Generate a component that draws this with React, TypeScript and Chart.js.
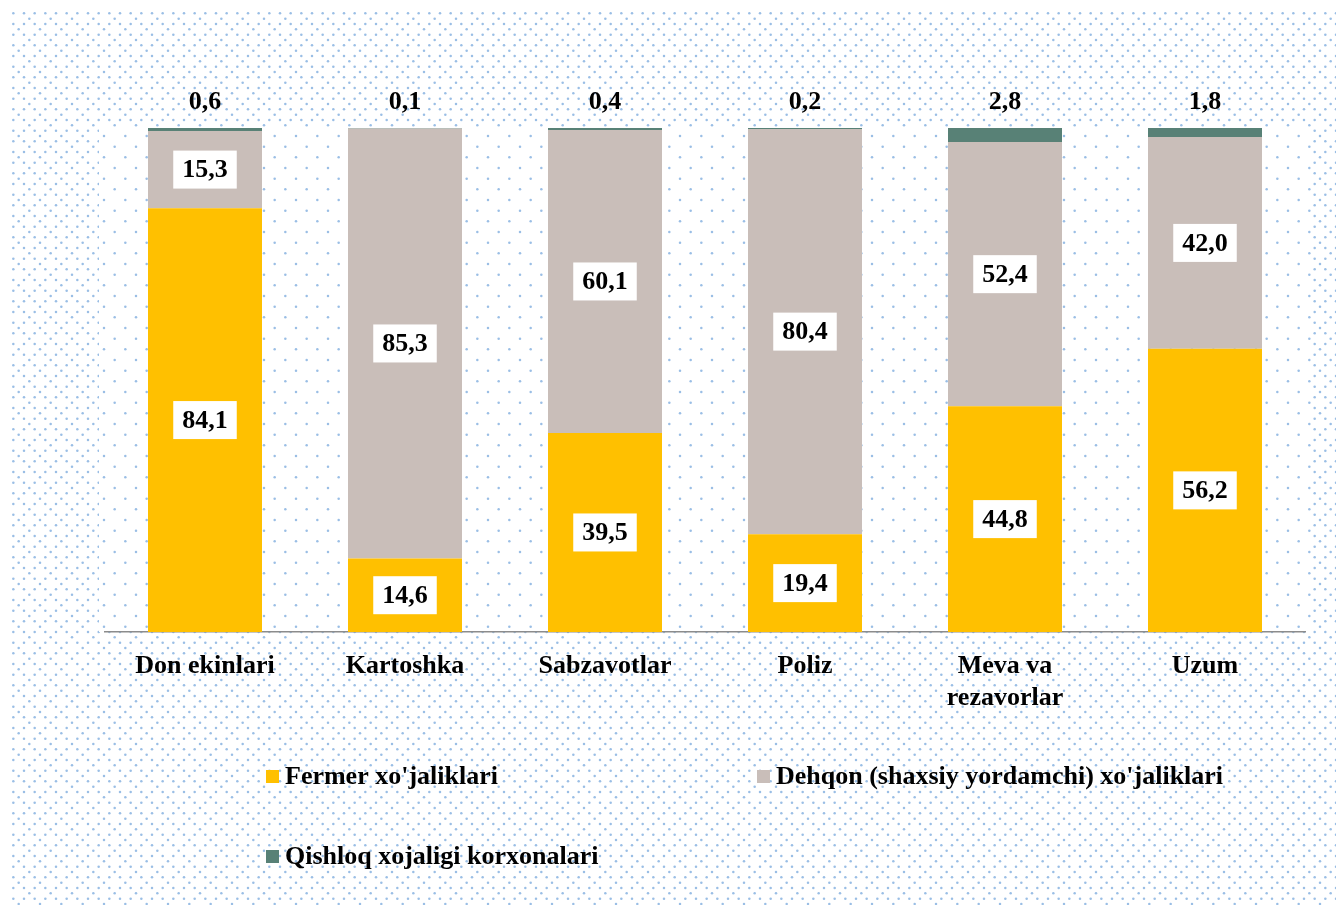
import React, { useEffect, useRef } from 'react';
import { Chart, registerables } from 'chart.js';

Chart.register(...registerables);

const categories: (string | string[])[] = ['Don ekinlari', 'Kartoshka', 'Sabzavotlar', 'Poliz', ['Meva va', 'rezavorlar'], 'Uzum'];
const fermer = [84.1, 14.6, 39.5, 19.4, 44.8, 56.2];
const dehqon = [15.3, 85.3, 60.1, 80.4, 52.4, 42.0];
const qishloq = [0.6, 0.1, 0.4, 0.2, 2.8, 1.8];
const seriesNames = ["Fermer xo'jaliklari", "Dehqon (shaxsiy yordamchi) xo'jaliklari", 'Qishloq xojaligi korxonalari'];
const seriesColors = ['#FFC000', '#C9BEB9', '#588176'];

const FONT = "'Liberation Serif', 'Times New Roman', serif";
const W = 1336;
const H = 905;

const fmt = (v: number) => v.toFixed(1).replace('.', ',');

function makePattern(ctx: CanvasRenderingContext2D, dense: boolean) {
  const tile = document.createElement('canvas');
  tile.width = 64;
  tile.height = 64;
  const t = tile.getContext('2d')!;
  const u = 16 / 3;
  t.fillStyle = 'rgba(120,168,220,0.75)';
  for (let k = 0; k < 12; k++) {
    const y = k * u + u / 2;
    const xs: number[] = [];
    const m = k % 4;
    if (m === 0 || m === 2) {
      if (dense) for (let j = 0; j < 6; j++) xs.push(j * 2 * u + u / 2);
    } else if (m === 1) {
      for (let j = 0; j < 3; j++) xs.push(j * 4 * u + 3 * u + u / 2);
    } else {
      for (let j = 0; j < 3; j++) xs.push(j * 4 * u + u + u / 2);
    }
    xs.forEach((x) => {
      t.beginPath();
      t.arc(x % 64, y, 1.25, 0, Math.PI * 2);
      t.fill();
    });
  }
  return ctx.createPattern(tile, 'repeat')!;
}

const backgroundPlugin = {
  id: 'dotBackground',
  beforeDraw(chart: any) {
    const ctx: CanvasRenderingContext2D = chart.ctx;
    const ca = chart.chartArea;
    ctx.save();
    ctx.fillStyle = '#ffffff';
    ctx.fillRect(0, 0, chart.width, chart.height);
    ctx.fillStyle = makePattern(ctx, true);
    ctx.fillRect(10, 12, chart.width - 10, chart.height - 12);
    const px = ca.left - 6;
    const py = ca.top - 1;
    const pw = ca.right - ca.left + 8;
    const ph = ca.bottom - ca.top + 1;
    ctx.fillStyle = '#ffffff';
    ctx.fillRect(px, py, pw, ph);
    ctx.fillStyle = makePattern(ctx, false);
    ctx.fillRect(px, py, pw, ph);
    ctx.restore();
  },
};

const labelPlugin = {
  id: 'valueLabels',
  afterDatasetsDraw(chart: any) {
    const ctx: CanvasRenderingContext2D = chart.ctx;
    ctx.save();
    ctx.font = `bold 26px ${FONT}`;
    ctx.textAlign = 'center';
    ctx.textBaseline = 'middle';
    chart.data.datasets.forEach((ds: any, di: number) => {
      const meta = chart.getDatasetMeta(di);
      meta.data.forEach((el: any, i: number) => {
        const txt = fmt(ds.data[i]);
        if (di < 2) {
          const cy = (el.y + el.base) / 2;
          const w = ctx.measureText(txt).width + 18;
          const h = 38;
          ctx.fillStyle = '#ffffff';
          ctx.fillRect(el.x - w / 2, cy - h / 2, w, h);
          ctx.fillStyle = '#000000';
          ctx.fillText(txt, el.x, cy + 1);
        } else {
          ctx.fillStyle = '#000000';
          ctx.fillText(txt, el.x, el.y - 26);
        }
      });
    });
    ctx.restore();
  },
};

const legendPlugin = {
  id: 'customLegend',
  afterDraw(chart: any) {
    const ctx: CanvasRenderingContext2D = chart.ctx;
    const pos = [
      [266, 777],
      [757, 777],
      [266, 857],
    ];
    ctx.save();
    ctx.font = `bold 26px ${FONT}`;
    ctx.textAlign = 'left';
    ctx.textBaseline = 'middle';
    chart.data.datasets.forEach((ds: any, i: number) => {
      const [x, y] = pos[i];
      ctx.fillStyle = ds.backgroundColor;
      ctx.fillRect(x, y - 7, 13, 13);
      ctx.fillStyle = '#000000';
      ctx.fillText(ds.label, x + 19, y);
    });
    ctx.restore();
  },
};

export default function App() {
  const ref = useRef<HTMLCanvasElement>(null);
  useEffect(() => {
    if (!ref.current) return;
    const chart = new Chart(ref.current, {
      type: 'bar',
      data: {
        labels: categories,
        datasets: [
          { label: seriesNames[0], data: fermer, backgroundColor: seriesColors[0] },
          { label: seriesNames[1], data: dehqon, backgroundColor: seriesColors[1] },
          { label: seriesNames[2], data: qishloq, backgroundColor: seriesColors[2] },
        ],
      },
      options: {
        responsive: false,
        animation: false,
        devicePixelRatio: 1,
        layout: { padding: { left: 105, right: 31, top: 128, bottom: H - 632 - 110 } },
        datasets: { bar: { barPercentage: 0.57, categoryPercentage: 1 } },
        plugins: { legend: { display: false }, tooltip: { enabled: false } },
        scales: {
          x: {
            stacked: true,
            grid: { display: false, drawTicks: false },
            border: { display: true, color: '#8c8c8c', width: 1.5 },
            ticks: {
              color: '#000000',
              padding: 18,
              maxRotation: 0,
              autoSkip: false,
              font: { family: FONT, size: 26, weight: 'bold', lineHeight: 1.23 },
            },
            afterFit: (scale: any) => {
              scale.height = 110;
            },
          },
          y: { stacked: true, display: false, min: 0, max: 100 },
        },
      },
      plugins: [backgroundPlugin, labelPlugin, legendPlugin],
    } as any);
    return () => chart.destroy();
  }, []);
  return (
    <div style={{ position: 'fixed', left: 0, top: 0, width: W, height: H, overflow: 'hidden' }}>
      <canvas ref={ref} width={W} height={H} style={{ display: 'block' }} />
    </div>
  );
}
